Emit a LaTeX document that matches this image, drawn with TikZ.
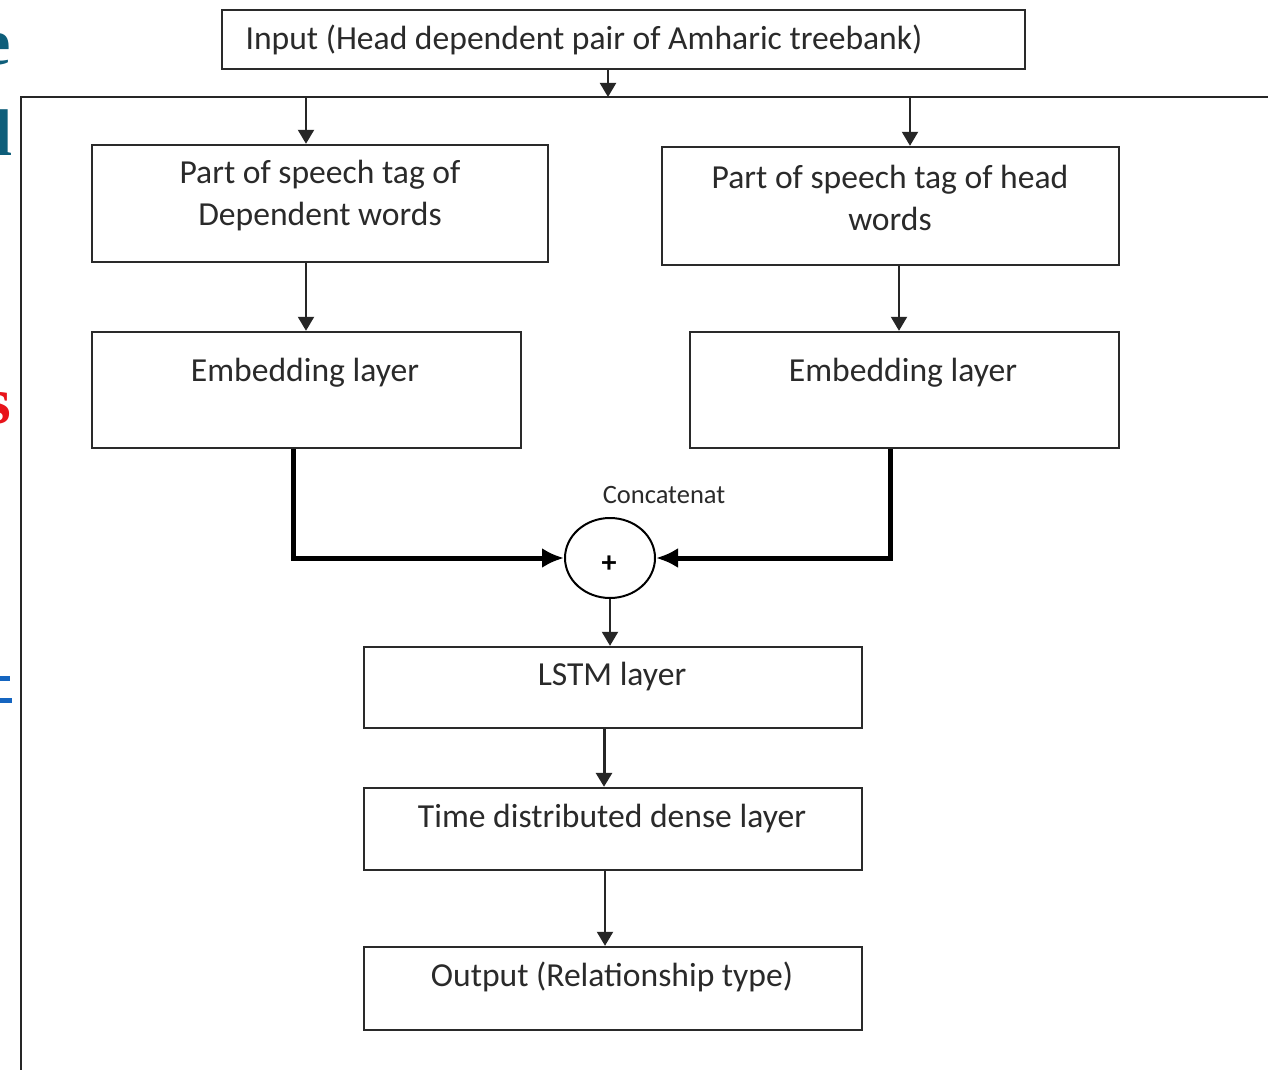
\documentclass[tikz,border=0pt]{standalone}
\usepackage{fontspec}
\setmainfont{Carlito}
\newfontfamily\edgefont{Liberation Serif}
\usetikzlibrary{shapes.geometric,arrows.meta}
\definecolor{ink}{HTML}{2A2A2A}
\definecolor{edgeteal}{HTML}{0E5E7A}
\definecolor{edgered}{HTML}{E8141B}
\definecolor{edgeblue}{HTML}{1565C0}
\begin{document}
\begin{tikzpicture}[x=1pt,y=-1pt,
  box/.style={draw=ink, line width=2.4pt, rectangle, inner sep=0pt},
  lbl/.style={text=ink, font=\fontsize{33.6}{42}\selectfont, align=center, inner sep=0pt},
  small/.style={text=ink, font=\fontsize{26.5}{28}\selectfont, inner sep=0pt},
  arr/.style={draw=black!85, line width=2pt, -{Triangle[width=16pt,length=14pt]}},
  tarr/.style={draw=black, line width=5pt, -{Latex[width=20pt,length=22pt]}},
  frameline/.style={draw=black!85, line width=2.4pt},
  edgeletter/.style={font=\edgefont\bfseries\fontsize{66}{66}\selectfont, inner sep=0pt, anchor=base east}
]
\useasboundingbox (0,0) rectangle (1268,1070);
\fill[white] (0,0) rectangle (1268,1070);

% cropped letters of the surrounding page at the left edge
\begin{scope}
  \clip (0,0) rectangle (20,1070);
  \node[edgeletter, text=edgeteal] (le) at (11,65) {e};
  \node[edgeletter, text=edgeteal] (ld) at (12,155) {d};
  \node[edgeletter, text=edgered] (ls) at (11,423) {s};
  \fill[edgeblue] (0,676) rectangle (10,681);
  \fill[edgeblue] (0,698) rectangle (12,703);
\end{scope}

% outer frame
\draw[frameline] (1275,97) -- (21,97) -- (21,1080);
\coordinate (fin) at (608,97);
\coordinate (fl) at (306,97);
\coordinate (fr) at (910,97);

% boxes
\node[box, minimum width=803pt, minimum height=59pt] (inp) at (623.5,39.5) {};
\node[lbl] (inpt) at (584,40) {Input (Head dependent pair of Amharic treebank)};

\node[box, minimum width=456pt, minimum height=117pt] (pos1) at (320,203.5) {};
\node[lbl] (pos1t) at (320,196) {Part of speech tag of\\Dependent words};

\node[box, minimum width=457pt, minimum height=118pt] (pos2) at (890.5,206) {};
\node[lbl] (pos2t) at (890,198) {Part of speech tag of head\\words};

\node[box, minimum width=429pt, minimum height=116pt] (emb1) at (306.5,390) {};
\node[lbl] (emb1t) at (305,373) {Embedding layer};

\node[box, minimum width=429pt, minimum height=116pt] (emb2) at (904.5,390) {};
\node[lbl] (emb2t) at (903,373) {Embedding layer};

\node[draw=black, line width=2pt, ellipse, minimum width=90pt, minimum height=80pt, inner sep=0pt] (circ) at (610,558) {};
\node[text=black, font=\bfseries\fontsize{30}{30}\selectfont, inner sep=0pt] (plus) at (609,564) {+};
\node[small] (cat) at (664,495) {Concatenat};

\node[box, minimum width=498pt, minimum height=81pt] (lstm) at (613,687.5) {};
\node[lbl] (lstmt) at (612,677) {LSTM layer};

\node[box, minimum width=498pt, minimum height=82pt] (tdd) at (613,829) {};
\node[lbl] (tddt) at (612,819) {Time distributed dense layer};

\node[box, minimum width=498pt, minimum height=83pt] (out) at (613,988.5) {};
\node[lbl] (outt) at (612,977) {Output (Relationship type)};

% connectors
\draw[arr] (inp.south -| fin) -- (fin);
\draw[arr] (fl) -- (pos1.north -| fl);
\draw[arr] (fr) -- (pos2.north -| fr);
\draw[arr] (pos1.south -| fl) -- (emb1.north -| fl);
\coordinate (rx) at (899,0);
\draw[arr] (pos2.south -| rx) -- (emb2.north -| rx);
\coordinate (lx) at (293,0);
\coordinate (rrx) at (890,0);
\draw[tarr] (emb1.south -| lx) |- (circ.west);
\draw[tarr] (emb2.south -| rrx) |- (circ.east);
\draw[arr] (circ.south) -- (lstm.north -| circ.south);
\coordinate (cx) at (604,0);
\draw[arr, line width=3pt] (lstm.south -| cx) -- (tdd.north -| cx);
\coordinate (dx) at (605,0);
\draw[arr] (tdd.south -| dx) -- (out.north -| dx);
\end{tikzpicture}
\end{document}
